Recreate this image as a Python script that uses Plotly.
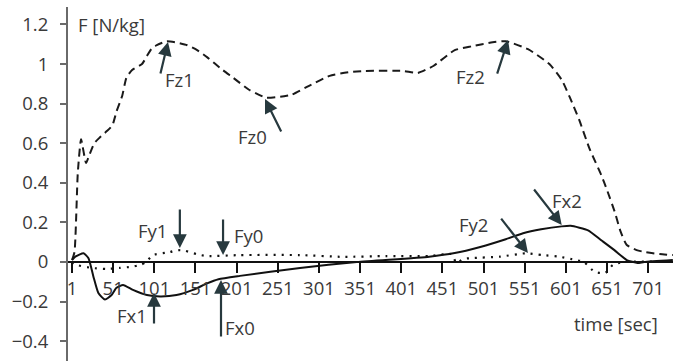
import plotly.graph_objects as go

# ---- data ----
t_fz = [1, 4, 8, 12, 18, 22, 28, 35, 43, 50, 55, 62, 67, 74, 86, 92, 98, 104, 116, 126,
        141, 153, 165, 184, 197, 216, 237, 254, 268, 289, 314, 339, 357, 403, 421, 440, 466, 487, 512, 528,
        555, 581, 596, 606, 617, 630, 644, 651, 661, 667, 675, 687, 695, 715, 731]
fz = [0.01, 0.05, 0.45, 0.62, 0.5, 0.54, 0.6, 0.63, 0.66, 0.69, 0.76, 0.84, 0.93, 0.97, 1.0, 1.04, 1.08, 1.095, 1.115, 1.11,
      1.095, 1.07, 1.035, 0.97, 0.93, 0.87, 0.83, 0.835, 0.845, 0.89, 0.94, 0.96, 0.965, 0.965, 0.955, 0.99, 1.07, 1.09, 1.11, 1.115,
      1.075, 1.0, 0.92, 0.83, 0.72, 0.57, 0.44, 0.364, 0.246, 0.16, 0.086, 0.06, 0.052, 0.04, 0.035]

t_fx = [1, 5, 15, 21, 27, 33, 41, 49, 55, 63, 75, 92, 108, 128, 148, 165, 179, 205, 278, 347,
        435, 466, 497, 528, 549, 571, 596, 607, 628, 644, 660, 675, 688, 696, 731]
fx = [0.01, 0.027, 0.044, 0.019, -0.074, -0.157, -0.19, -0.167, -0.13, -0.116, -0.141, -0.167, -0.174, -0.167, -0.141,
      -0.108, -0.087, -0.07, -0.03, 0.0, 0.027, 0.045, 0.076, 0.115, 0.145, 0.165, 0.18, 0.183, 0.16, 0.11,
      0.06, 0.01, -0.005, 0.0, 0.01]

t_fy = [1, 7, 25, 43, 59, 73, 84, 91, 99, 120, 128, 138, 152, 165, 205, 278, 330, 382, 435, 462,
        468, 476, 487, 521, 552, 572, 593, 613, 623, 636, 649, 658, 670, 731]
fy = [0.0, -0.015, -0.03, -0.035, -0.03, -0.024, -0.015, 0.0, 0.035, 0.05, 0.06, 0.057, 0.04, 0.03, 0.035, 0.035,
      0.026, 0.03, 0.03, 0.04, -0.005, 0.015, 0.02, 0.027, 0.044, 0.035, 0.027, 0.01, 0.0, -0.05, -0.055, -0.015, 0.0, 0.0]

x_tickvals = [1, 51, 101, 151, 201, 251, 301, 351, 401, 451, 501, 551, 601, 651, 701]
x_ticktext = [str(v) for v in x_tickvals]
y_tickvals = [-0.4, -0.2, 0, 0.2, 0.4, 0.6, 0.8, 1, 1.2]
y_ticktext = ["\u22120.4", "\u22120.2", "0", "0.2", "0.4", "0.6", "0.8", "1", "1.2"]

# arrow labels: (text, label x, label y, arrow tail x, tail y, head x, head y)
arrow_labels = ["Fz1", "Fz0", "Fz2", "Fy1", "Fy0", "Fx1", "Fx0", "Fy2", "Fx2"]
label_x = [131, 220, 485, 99, 216, 74, 205, 489, 602]
label_y = [0.924, 0.636, 0.939, 0.157, 0.136, -0.268, -0.333, 0.187, 0.313]
tail_x = [108, 256, 517, 132, 184.5, 100.6, 182, 521, 561]
tail_y = [0.944, 0.652, 0.944, 0.273, 0.222, -0.318, -0.384, 0.227, 0.374]
head_x = [117.6, 235.5, 530.8, 132, 184.5, 100.6, 182, 555, 596]
head_y = [1.111, 0.823, 1.121, 0.071, 0.035, -0.157, -0.091, 0.045, 0.187]

FONT = "Open Sans"
FS = 18.5
TXT = "#3a3a3a"
ARROW = "#27393e"

fig = go.Figure()
fig.add_trace(go.Scatter(x=t_fz, y=fz, mode="lines", name="Fz",
                         line=dict(color="#1a1a1a", width=2, dash="8px,5px", shape="spline", smoothing=0.5)))
fig.add_trace(go.Scatter(x=t_fx, y=fx, mode="lines", name="Fx",
                         line=dict(color="#111111", width=2, shape="spline", smoothing=0.5)))
fig.add_trace(go.Scatter(x=t_fy, y=fy, mode="lines", name="Fy",
                         line=dict(color="#111111", width=2.2, dash="2px,6px", shape="spline", smoothing=0.5)))

annotations = []
for i, txt in enumerate(arrow_labels):
    annotations.append(dict(x=head_x[i], y=head_y[i], ax=tail_x[i], ay=tail_y[i],
                            xref="x", yref="y", axref="x", ayref="y", text="",
                            showarrow=True, arrowhead=2, arrowsize=1.25, arrowwidth=2.2,
                            arrowcolor=ARROW, standoff=0, startstandoff=0))
    annotations.append(dict(x=label_x[i], y=label_y[i], xref="x", yref="y", text=txt,
                            showarrow=False, font=dict(family=FONT, size=FS, color=TXT),
                            xanchor="center", yanchor="middle"))
annotations.append(dict(x=0.0132, y=1.2, xref="paper", yref="y", text="F [N/kg]", showarrow=False,
                        xanchor="left", yanchor="middle", font=dict(family=FONT, size=FS, color=TXT)))
annotations.append(dict(x=0.978, y=-0.313, xref="paper", yref="y", text="time [sec]", showarrow=False,
                        xanchor="right", yanchor="middle", font=dict(family=FONT, size=FS, color=TXT)))

fig.update_layout(
    width=673, height=361,
    margin=dict(l=68, r=0, t=7, b=0),
    paper_bgcolor="white", plot_bgcolor="white",
    showlegend=False,
    annotations=annotations,
    font=dict(family=FONT, size=FS, color=TXT),
    xaxis=dict(range=[-3.9, 731.2], tickvals=x_tickvals, ticktext=x_ticktext,
               showgrid=False, zeroline=False, showline=True, linecolor="#111111", linewidth=1.5,
               ticks="outside", ticklen=10, tickwidth=1.5, tickcolor="#111111",
               anchor="free", position=(361 - 262) / 354,
               tickfont=dict(family=FONT, size=FS, color=TXT)),
    yaxis=dict(range=[-0.5, 1.288], tickvals=y_tickvals, ticktext=y_ticktext,
               showgrid=False, zeroline=False, showline=True, linecolor="#6a6a6a", linewidth=2,
               ticks="outside", ticklen=6, tickwidth=1.5, tickcolor="#6a6a6a",
               ticklabelstandoff=8,
               tickfont=dict(family=FONT, size=FS, color=TXT)),
)

fig.write_html("out.html")
